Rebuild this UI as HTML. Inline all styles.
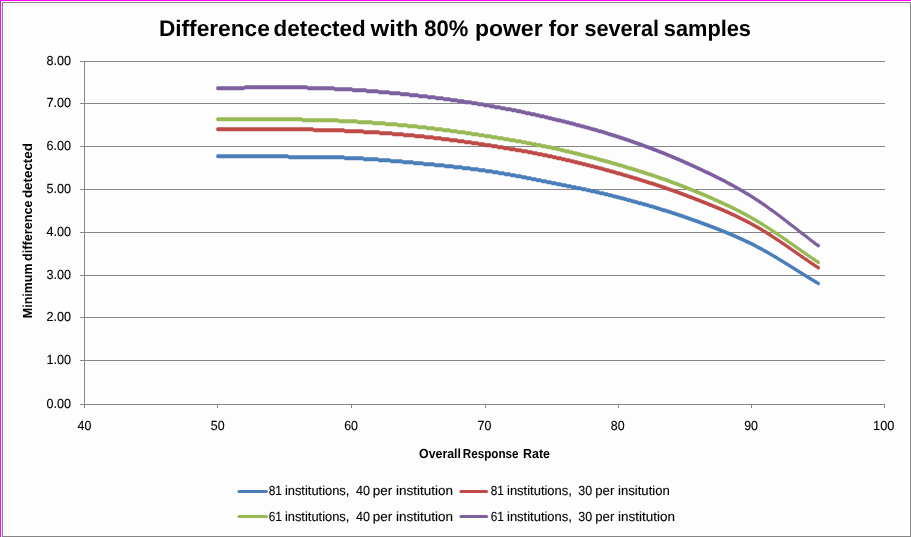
<!DOCTYPE html>
<html><head><meta charset="utf-8"><title>Difference detected with 80% power for several samples</title>
<style>
html,body{margin:0;padding:0;background:#fff;}
body{width:911px;height:537px;overflow:hidden;}
svg{display:block;font-family:"Liberation Sans",sans-serif;}
text{fill:#000;text-rendering:geometricPrecision;stroke:#000;stroke-width:0.12px;}
text[font-weight=bold]{stroke-width:0;}
svg{will-change:transform;}
</style></head><body>
<svg width="911" height="537" viewBox="0 0 911 537">
<rect x="0" y="0" width="911" height="537" fill="#ffffff"/>
<rect x="3" y="3" width="907" height="533" fill="#fdfdfd"/>
<!-- outer magenta edge -->
<rect x="0" y="0" width="911" height="1" fill="#ff00ff"/>
<rect x="0" y="0" width="1" height="537" fill="#ff00ff"/>
<!-- chart border -->
<rect x="2" y="2" width="909" height="1" fill="#868686"/>
<rect x="2" y="536" width="909" height="1" fill="#868686"/>
<rect x="2" y="2" width="1" height="535" fill="#868686"/>
<rect x="910" y="2" width="1" height="535" fill="#868686"/>
<!-- gridlines -->
<rect x="80" y="61" width="805" height="1" fill="#868686"/>
<rect x="80" y="103" width="805" height="1" fill="#868686"/>
<rect x="80" y="146" width="805" height="1" fill="#868686"/>
<rect x="80" y="189" width="805" height="1" fill="#868686"/>
<rect x="80" y="232" width="805" height="1" fill="#868686"/>
<rect x="80" y="275" width="805" height="1" fill="#868686"/>
<rect x="80" y="317" width="805" height="1" fill="#868686"/>
<rect x="80" y="360" width="805" height="1" fill="#868686"/>
<rect x="80" y="404" width="805" height="1" fill="#868686"/>

<!-- y axis -->
<rect x="84" y="61" width="1" height="344" fill="#868686"/>
<rect x="84" y="404" width="1" height="4" fill="#868686"/>
<rect x="217" y="404" width="1" height="4" fill="#868686"/>
<rect x="351" y="404" width="1" height="4" fill="#868686"/>
<rect x="485" y="404" width="1" height="4" fill="#868686"/>
<rect x="618" y="404" width="1" height="4" fill="#868686"/>
<rect x="751" y="404" width="1" height="4" fill="#868686"/>
<rect x="884" y="404" width="1" height="4" fill="#868686"/>

<!-- series -->
<g>
<path d="M217.9 154.35 L287.9 154.35 L288.9 155.35 L343.9 155.35 L344.9 156.35 L362.9 156.35 L363.9 157.35 L377.9 157.35 L378.9 158.35 L389.9 158.35 L390.9 159.35 L401.9 159.35 L402.9 160.35 L412.9 160.35 L413.9 161.35 L422.9 161.35 L423.9 162.35 L433.9 162.35 L434.9 163.35 L443.9 163.35 L444.9 164.35 L452.9 164.35 L453.9 165.35 L461.9 165.35 L462.9 166.35 L469.9 166.35 L470.9 167.35 L477.9 167.35 L478.9 168.35 L484.9 168.35 L485.9 169.35 L491.9 169.35 L492.9 170.35 L497.9 170.35 L498.9 171.35 L503.9 171.35 L504.9 172.35 L509.9 172.35 L510.9 173.35 L514.9 173.35 L515.9 174.35 L520.9 174.35 L521.9 175.35 L525.9 175.35 L526.9 176.35 L530.9 176.35 L531.9 177.35 L535.9 177.35 L536.9 178.35 L540.9 178.35 L541.9 179.35 L545.9 179.35 L546.9 180.35 L550.9 180.35 L551.9 181.35 L555.9 181.35 L556.9 182.35 L560.9 182.35 L561.9 183.35 L565.9 183.35 L566.9 184.35 L570.9 184.35 L571.9 185.35 L575.9 185.35 L576.9 186.35 L580.9 186.35 L581.9 187.35 L585.9 187.35 L586.9 188.35 L589.9 188.35 L590.9 189.35 L591.9 189.35 L592.9 189.35 L593.9 189.35 L594.9 189.36 L595.9 190.34 L596.9 190.35 L597.9 190.35 L598.9 190.36 L599.9 191.33 L600.9 191.34 L601.9 191.35 L602.9 191.37 L603.9 191.39 L604.9 192.33 L605.9 192.35 L606.9 192.37 L607.9 192.40 L608.9 193.32 L609.9 193.34 L610.9 193.37 L611.9 193.41 L612.9 194.30 L613.9 194.34 L614.9 194.38 L615.9 194.42 L616.9 195.29 L617.9 195.34 L618.9 195.38 L619.9 195.43 L620.9 196.29 L621.9 196.34 L622.9 196.40 L623.9 196.45 L624.9 197.30 L625.9 197.35 L626.9 197.41 L627.9 198.25 L628.9 198.30 L629.9 198.37 L630.9 198.43 L631.9 199.25 L632.9 199.32 L633.9 199.39 L634.9 199.46 L635.9 200.27 L636.9 200.34 L637.9 200.41 L638.9 201.21 L639.9 201.29 L640.9 201.37 L641.9 201.45 L642.9 202.24 L643.9 202.32 L644.9 202.41 L645.9 202.50 L646.9 203.27 L647.9 203.36 L648.9 203.46 L649.9 204.22 L650.9 204.32 L651.9 204.42 L652.9 204.53 L653.9 205.27 L654.9 205.38 L655.9 205.50 L656.9 206.22 L657.9 206.34 L658.9 206.46 L659.9 207.17 L660.9 207.30 L661.9 207.43 L662.9 208.13 L663.9 208.26 L664.9 208.41 L665.9 208.55 L666.9 209.23 L667.9 209.38 L668.9 209.54 L669.9 210.20 L670.9 210.36 L671.9 210.53 L672.9 211.18 L673.9 211.35 L674.9 211.53 L675.9 212.16 L676.9 212.34 L677.9 212.53 L678.9 213.15 L679.9 213.35 L680.9 213.55 L681.9 214.15 L682.9 214.36 L683.9 214.58 L684.9 215.17 L685.9 215.39 L686.9 215.62 L687.9 216.20 L688.9 216.43 L689.9 216.66 L690.9 217.23 L691.9 217.47 L692.9 218.03 L693.9 218.27 L694.9 218.51 L695.9 219.07 L696.9 219.32 L697.9 219.57 L698.9 220.12 L699.9 220.37 L700.9 220.63 L701.9 221.18 L702.9 221.44 L703.9 221.71 L704.9 222.25 L705.9 222.52 L706.9 223.05 L707.9 223.33 L708.9 223.62 L709.9 224.13 L710.9 224.43 L711.9 224.73 L712.9 225.24 L713.9 225.55 L714.9 226.04 L715.9 226.36 L716.9 226.69 L717.9 227.17 L718.9 227.51 L719.9 227.98 L720.9 228.33 L721.9 228.69 L722.9 229.15 L723.9 229.52 L724.9 229.97 L725.9 230.35 L726.9 230.75 L727.9 231.18 L728.9 231.59 L729.9 232.02 L730.9 232.44 L731.9 232.86 L732.9 233.29 L733.9 233.72 L734.9 234.16 L735.9 234.60 L736.9 235.04 L737.9 235.48 L738.9 235.93 L739.9 236.38 L740.9 236.83 L741.9 237.29 L742.9 237.75 L743.9 238.22 L744.9 238.69 L745.9 239.16 L746.9 239.64 L747.9 240.12 L748.9 240.60 L749.9 241.09 L750.9 241.58 L751.9 242.08 L752.9 242.58 L753.9 243.09 L754.9 243.60 L755.9 244.12 L756.9 244.64 L757.9 245.17 L758.9 245.70 L759.9 246.24 L760.9 246.78 L761.9 247.32 L762.9 247.87 L763.9 248.43 L764.9 248.99 L765.9 249.55 L766.9 250.11 L767.9 250.68 L768.9 251.26 L769.9 251.83 L770.9 252.41 L771.9 253.00 L772.9 253.59 L773.9 254.18 L774.9 254.77 L775.9 255.37 L776.9 255.96 L777.9 256.57 L778.9 257.17 L779.9 257.78 L780.9 258.38 L781.9 258.99 L782.9 259.61 L783.9 260.22 L784.9 260.84 L785.9 261.45 L786.9 262.07 L787.9 262.69 L788.9 263.32 L789.9 263.94 L790.9 264.56 L791.9 265.18 L792.9 265.81 L793.9 266.43 L794.9 267.06 L795.9 267.69 L796.9 268.31 L797.9 268.94 L798.9 269.56 L799.9 270.19 L800.9 270.81 L801.9 271.43 L802.9 272.06 L803.9 272.68 L804.9 273.30 L805.9 273.92 L806.9 274.54 L807.9 275.16 L808.9 275.77 L809.9 276.38 L810.9 277.00 L811.9 277.60 L812.9 278.21 L813.9 278.82 L814.9 279.42 L815.9 280.02 L816.9 280.62 L817.9 281.21 L818.2 281.39 A1.80 2.00 0 0 1 818.20 285.39 L817.9 285.21 L816.9 284.62 L815.9 284.02 L814.9 283.42 L813.9 282.82 L812.9 282.21 L811.9 281.60 L810.9 281.00 L809.9 280.38 L808.9 279.77 L807.9 279.16 L806.9 278.54 L805.9 277.92 L804.9 277.30 L803.9 276.68 L802.9 276.06 L801.9 275.43 L800.9 274.81 L799.9 274.19 L798.9 273.56 L797.9 272.94 L796.9 272.31 L795.9 271.69 L794.9 271.06 L793.9 270.43 L792.9 269.81 L791.9 269.18 L790.9 268.56 L789.9 267.94 L788.9 267.32 L787.9 266.69 L786.9 266.07 L785.9 265.45 L784.9 264.84 L783.9 264.22 L782.9 263.61 L781.9 262.99 L780.9 262.38 L779.9 261.78 L778.9 261.17 L777.9 260.57 L776.9 259.96 L775.9 259.37 L774.9 258.77 L773.9 258.18 L772.9 257.59 L771.9 257.00 L770.9 256.41 L769.9 255.83 L768.9 255.26 L767.9 254.68 L766.9 254.11 L765.9 253.55 L764.9 252.99 L763.9 252.43 L762.9 251.87 L761.9 251.32 L760.9 250.78 L759.9 250.24 L758.9 249.70 L757.9 249.17 L756.9 248.64 L755.9 248.12 L754.9 247.60 L753.9 247.09 L752.9 246.58 L751.9 246.08 L750.9 245.58 L749.9 245.09 L748.9 244.60 L747.9 244.12 L746.9 243.64 L745.9 243.16 L744.9 242.69 L743.9 242.22 L742.9 241.75 L741.9 241.29 L740.9 240.83 L739.9 240.38 L738.9 239.93 L737.9 239.48 L736.9 239.04 L735.9 238.60 L734.9 238.16 L733.9 237.72 L732.9 237.29 L731.9 236.86 L730.9 236.44 L729.9 236.02 L728.9 235.59 L727.9 235.18 L726.9 234.75 L725.9 234.35 L724.9 233.97 L723.9 233.52 L722.9 233.15 L721.9 232.69 L720.9 232.33 L719.9 231.98 L718.9 231.51 L717.9 231.17 L716.9 230.69 L715.9 230.36 L714.9 230.04 L713.9 229.55 L712.9 229.24 L711.9 228.73 L710.9 228.43 L709.9 228.13 L708.9 227.62 L707.9 227.33 L706.9 227.05 L705.9 226.52 L704.9 226.25 L703.9 225.71 L702.9 225.44 L701.9 225.18 L700.9 224.63 L699.9 224.37 L698.9 224.12 L697.9 223.57 L696.9 223.32 L695.9 223.07 L694.9 222.51 L693.9 222.27 L692.9 222.03 L691.9 221.47 L690.9 221.23 L689.9 220.66 L688.9 220.43 L687.9 220.20 L686.9 219.62 L685.9 219.39 L684.9 219.17 L683.9 218.58 L682.9 218.36 L681.9 218.15 L680.9 217.55 L679.9 217.35 L678.9 217.15 L677.9 216.53 L676.9 216.34 L675.9 216.16 L674.9 215.53 L673.9 215.35 L672.9 215.18 L671.9 214.53 L670.9 214.36 L669.9 214.20 L668.9 213.54 L667.9 213.38 L666.9 213.23 L665.9 212.55 L664.9 212.41 L663.9 212.26 L662.9 212.13 L661.9 211.43 L660.9 211.30 L659.9 211.17 L658.9 210.46 L657.9 210.34 L656.9 210.22 L655.9 209.50 L654.9 209.38 L653.9 209.27 L652.9 208.53 L651.9 208.42 L650.9 208.32 L649.9 208.22 L648.9 207.46 L647.9 207.36 L646.9 207.27 L645.9 206.50 L644.9 206.41 L643.9 206.32 L642.9 206.24 L641.9 205.45 L640.9 205.37 L639.9 205.29 L638.9 205.21 L637.9 204.41 L636.9 204.34 L635.9 204.27 L634.9 203.46 L633.9 203.39 L632.9 203.32 L631.9 203.25 L630.9 202.43 L629.9 202.37 L628.9 202.30 L627.9 202.25 L626.9 201.41 L625.9 201.35 L624.9 201.30 L623.9 200.45 L622.9 200.40 L621.9 200.34 L620.9 200.29 L619.9 199.43 L618.9 199.38 L617.9 199.34 L616.9 199.29 L615.9 198.42 L614.9 198.38 L613.9 198.34 L612.9 198.30 L611.9 197.41 L610.9 197.37 L609.9 197.34 L608.9 197.32 L607.9 196.40 L606.9 196.37 L605.9 196.35 L604.9 196.33 L603.9 195.39 L602.9 195.37 L601.9 195.35 L600.9 195.34 L599.9 195.33 L598.9 194.36 L597.9 194.35 L596.9 194.35 L595.9 194.34 L594.9 193.36 L593.9 193.35 L592.9 193.35 L591.9 193.35 L590.9 193.35 L589.9 192.35 L586.9 192.35 L585.9 191.35 L581.9 191.35 L580.9 190.35 L576.9 190.35 L575.9 189.35 L571.9 189.35 L570.9 188.35 L566.9 188.35 L565.9 187.35 L561.9 187.35 L560.9 186.35 L556.9 186.35 L555.9 185.35 L551.9 185.35 L550.9 184.35 L546.9 184.35 L545.9 183.35 L541.9 183.35 L540.9 182.35 L536.9 182.35 L535.9 181.35 L531.9 181.35 L530.9 180.35 L526.9 180.35 L525.9 179.35 L521.9 179.35 L520.9 178.35 L515.9 178.35 L514.9 177.35 L510.9 177.35 L509.9 176.35 L504.9 176.35 L503.9 175.35 L498.9 175.35 L497.9 174.35 L492.9 174.35 L491.9 173.35 L485.9 173.35 L484.9 172.35 L478.9 172.35 L477.9 171.35 L470.9 171.35 L469.9 170.35 L462.9 170.35 L461.9 169.35 L453.9 169.35 L452.9 168.35 L444.9 168.35 L443.9 167.35 L434.9 167.35 L433.9 166.35 L423.9 166.35 L422.9 165.35 L413.9 165.35 L412.9 164.35 L402.9 164.35 L401.9 163.35 L390.9 163.35 L389.9 162.35 L378.9 162.35 L377.9 161.35 L363.9 161.35 L362.9 160.35 L344.9 160.35 L343.9 159.35 L288.9 159.35 L287.9 158.35 L217.9 158.35 A1.80 2.00 0 0 1 217.90 154.35 Z" fill="#4A7EBB" stroke="none"/>
<path d="M217.9 127.35 L312.9 127.35 L313.9 128.35 L343.9 128.35 L344.9 129.35 L362.9 129.35 L363.9 130.35 L378.9 130.35 L379.9 131.35 L391.9 131.35 L392.9 132.35 L402.9 132.35 L403.9 133.35 L413.9 133.35 L414.9 134.35 L423.9 134.35 L424.9 135.35 L432.9 135.35 L433.9 136.35 L440.9 136.35 L441.9 137.35 L448.9 137.35 L449.9 138.35 L456.9 138.35 L457.9 139.35 L463.9 139.35 L464.9 140.35 L470.9 140.35 L471.9 141.35 L477.9 141.35 L478.9 142.35 L483.9 142.35 L484.9 143.35 L490.9 143.35 L491.9 144.35 L496.9 144.35 L497.9 145.35 L502.9 145.35 L503.9 146.35 L508.9 146.35 L509.9 147.35 L514.9 147.35 L515.9 148.35 L520.9 148.35 L521.9 149.35 L526.9 149.35 L527.9 150.35 L531.9 150.35 L532.9 151.35 L536.9 151.35 L537.9 152.35 L541.9 152.35 L542.9 153.35 L546.9 153.35 L547.9 154.35 L551.9 154.35 L552.9 155.35 L555.9 155.35 L556.9 156.35 L557.9 156.35 L558.9 156.35 L559.9 156.35 L560.9 156.36 L561.9 157.34 L562.9 157.35 L563.9 157.35 L564.9 157.36 L565.9 158.33 L566.9 158.34 L567.9 158.35 L568.9 158.36 L569.9 158.38 L570.9 159.33 L571.9 159.34 L572.9 159.36 L573.9 159.38 L574.9 160.32 L575.9 160.34 L576.9 160.36 L577.9 160.39 L578.9 161.31 L579.9 161.33 L580.9 161.36 L581.9 161.39 L582.9 162.29 L583.9 162.33 L584.9 162.36 L585.9 162.40 L586.9 163.28 L587.9 163.32 L588.9 163.36 L589.9 163.40 L590.9 164.28 L591.9 164.32 L592.9 164.37 L593.9 164.42 L594.9 165.27 L595.9 165.32 L596.9 165.38 L597.9 165.43 L598.9 166.27 L599.9 166.33 L600.9 166.39 L601.9 166.46 L602.9 167.28 L603.9 167.35 L604.9 167.42 L605.9 168.23 L606.9 168.30 L607.9 168.37 L608.9 168.45 L609.9 169.24 L610.9 169.32 L611.9 169.40 L612.9 169.49 L613.9 170.27 L614.9 170.36 L615.9 170.45 L616.9 171.22 L617.9 171.31 L618.9 171.41 L619.9 171.51 L620.9 172.26 L621.9 172.36 L622.9 172.46 L623.9 173.21 L624.9 173.32 L625.9 173.42 L626.9 173.53 L627.9 174.27 L628.9 174.38 L629.9 174.49 L630.9 175.22 L631.9 175.34 L632.9 175.46 L633.9 176.18 L634.9 176.30 L635.9 176.42 L636.9 176.54 L637.9 177.25 L638.9 177.38 L639.9 177.51 L640.9 178.21 L641.9 178.35 L642.9 178.49 L643.9 179.18 L644.9 179.32 L645.9 179.46 L646.9 180.14 L647.9 180.29 L648.9 180.44 L649.9 181.11 L650.9 181.26 L651.9 181.42 L652.9 181.59 L653.9 182.24 L654.9 182.41 L655.9 182.58 L656.9 183.22 L657.9 183.40 L658.9 183.59 L659.9 184.21 L660.9 184.40 L661.9 184.60 L662.9 185.21 L663.9 185.41 L664.9 185.62 L665.9 186.22 L666.9 186.43 L667.9 186.65 L668.9 187.23 L669.9 187.46 L670.9 188.03 L671.9 188.26 L672.9 188.50 L673.9 189.06 L674.9 189.31 L675.9 189.56 L676.9 190.11 L677.9 190.37 L678.9 190.64 L679.9 191.17 L680.9 191.45 L681.9 191.73 L682.9 192.25 L683.9 192.55 L684.9 193.05 L685.9 193.36 L686.9 193.66 L687.9 194.16 L688.9 194.47 L689.9 194.97 L690.9 195.28 L691.9 195.59 L692.9 196.09 L693.9 196.40 L694.9 196.72 L695.9 197.21 L696.9 197.53 L697.9 198.02 L698.9 198.34 L699.9 198.67 L700.9 199.15 L701.9 199.49 L702.9 199.96 L703.9 200.30 L704.9 200.65 L705.9 201.12 L706.9 201.47 L707.9 201.93 L708.9 202.29 L709.9 202.66 L710.9 203.11 L711.9 203.49 L712.9 203.93 L713.9 204.32 L714.9 204.72 L715.9 205.15 L716.9 205.56 L717.9 205.98 L718.9 206.41 L719.9 206.83 L720.9 207.26 L721.9 207.68 L722.9 208.12 L723.9 208.55 L724.9 208.99 L725.9 209.43 L726.9 209.87 L727.9 210.32 L728.9 210.76 L729.9 211.22 L730.9 211.67 L731.9 212.13 L732.9 212.59 L733.9 213.06 L734.9 213.53 L735.9 214.00 L736.9 214.48 L737.9 214.96 L738.9 215.44 L739.9 215.93 L740.9 216.42 L741.9 216.92 L742.9 217.42 L743.9 217.92 L744.9 218.43 L745.9 218.95 L746.9 219.47 L747.9 219.99 L748.9 220.52 L749.9 221.05 L750.9 221.59 L751.9 222.14 L752.9 222.69 L753.9 223.25 L754.9 223.81 L755.9 224.38 L756.9 224.95 L757.9 225.53 L758.9 226.12 L759.9 226.71 L760.9 227.30 L761.9 227.90 L762.9 228.51 L763.9 229.12 L764.9 229.73 L765.9 230.35 L766.9 230.98 L767.9 231.61 L768.9 232.24 L769.9 232.88 L770.9 233.52 L771.9 234.17 L772.9 234.82 L773.9 235.47 L774.9 236.13 L775.9 236.79 L776.9 237.45 L777.9 238.12 L778.9 238.79 L779.9 239.46 L780.9 240.13 L781.9 240.81 L782.9 241.49 L783.9 242.17 L784.9 242.86 L785.9 243.54 L786.9 244.23 L787.9 244.92 L788.9 245.61 L789.9 246.30 L790.9 246.99 L791.9 247.69 L792.9 248.38 L793.9 249.08 L794.9 249.77 L795.9 250.47 L796.9 251.16 L797.9 251.86 L798.9 252.55 L799.9 253.25 L800.9 253.94 L801.9 254.63 L802.9 255.32 L803.9 256.02 L804.9 256.70 L805.9 257.39 L806.9 258.08 L807.9 258.76 L808.9 259.45 L809.9 260.13 L810.9 260.81 L811.9 261.48 L812.9 262.16 L813.9 262.83 L814.9 263.50 L815.9 264.16 L816.9 264.82 L817.9 265.48 L818.2 265.68 A1.80 2.00 0 0 1 818.20 269.68 L817.9 269.48 L816.9 268.82 L815.9 268.16 L814.9 267.50 L813.9 266.83 L812.9 266.16 L811.9 265.48 L810.9 264.81 L809.9 264.13 L808.9 263.45 L807.9 262.76 L806.9 262.08 L805.9 261.39 L804.9 260.70 L803.9 260.02 L802.9 259.32 L801.9 258.63 L800.9 257.94 L799.9 257.25 L798.9 256.55 L797.9 255.86 L796.9 255.16 L795.9 254.47 L794.9 253.77 L793.9 253.08 L792.9 252.38 L791.9 251.69 L790.9 250.99 L789.9 250.30 L788.9 249.61 L787.9 248.92 L786.9 248.23 L785.9 247.54 L784.9 246.86 L783.9 246.17 L782.9 245.49 L781.9 244.81 L780.9 244.13 L779.9 243.46 L778.9 242.79 L777.9 242.12 L776.9 241.45 L775.9 240.79 L774.9 240.13 L773.9 239.47 L772.9 238.82 L771.9 238.17 L770.9 237.52 L769.9 236.88 L768.9 236.24 L767.9 235.61 L766.9 234.98 L765.9 234.35 L764.9 233.73 L763.9 233.12 L762.9 232.51 L761.9 231.90 L760.9 231.30 L759.9 230.71 L758.9 230.12 L757.9 229.53 L756.9 228.95 L755.9 228.38 L754.9 227.81 L753.9 227.25 L752.9 226.69 L751.9 226.14 L750.9 225.59 L749.9 225.05 L748.9 224.52 L747.9 223.99 L746.9 223.47 L745.9 222.95 L744.9 222.43 L743.9 221.92 L742.9 221.42 L741.9 220.92 L740.9 220.42 L739.9 219.93 L738.9 219.44 L737.9 218.96 L736.9 218.48 L735.9 218.00 L734.9 217.53 L733.9 217.06 L732.9 216.59 L731.9 216.13 L730.9 215.67 L729.9 215.22 L728.9 214.76 L727.9 214.32 L726.9 213.87 L725.9 213.43 L724.9 212.99 L723.9 212.55 L722.9 212.12 L721.9 211.68 L720.9 211.26 L719.9 210.83 L718.9 210.41 L717.9 209.98 L716.9 209.56 L715.9 209.15 L714.9 208.72 L713.9 208.32 L712.9 207.93 L711.9 207.49 L710.9 207.11 L709.9 206.66 L708.9 206.29 L707.9 205.93 L706.9 205.47 L705.9 205.12 L704.9 204.65 L703.9 204.30 L702.9 203.96 L701.9 203.49 L700.9 203.15 L699.9 202.67 L698.9 202.34 L697.9 202.02 L696.9 201.53 L695.9 201.21 L694.9 200.72 L693.9 200.40 L692.9 200.09 L691.9 199.59 L690.9 199.28 L689.9 198.97 L688.9 198.47 L687.9 198.16 L686.9 197.66 L685.9 197.36 L684.9 197.05 L683.9 196.55 L682.9 196.25 L681.9 195.73 L680.9 195.45 L679.9 195.17 L678.9 194.64 L677.9 194.37 L676.9 194.11 L675.9 193.56 L674.9 193.31 L673.9 193.06 L672.9 192.50 L671.9 192.26 L670.9 192.03 L669.9 191.46 L668.9 191.23 L667.9 190.65 L666.9 190.43 L665.9 190.22 L664.9 189.62 L663.9 189.41 L662.9 189.21 L661.9 188.60 L660.9 188.40 L659.9 188.21 L658.9 187.59 L657.9 187.40 L656.9 187.22 L655.9 186.58 L654.9 186.41 L653.9 186.24 L652.9 185.59 L651.9 185.42 L650.9 185.26 L649.9 185.11 L648.9 184.44 L647.9 184.29 L646.9 184.14 L645.9 183.46 L644.9 183.32 L643.9 183.18 L642.9 182.49 L641.9 182.35 L640.9 182.21 L639.9 181.51 L638.9 181.38 L637.9 181.25 L636.9 180.54 L635.9 180.42 L634.9 180.30 L633.9 180.18 L632.9 179.46 L631.9 179.34 L630.9 179.22 L629.9 178.49 L628.9 178.38 L627.9 178.27 L626.9 177.53 L625.9 177.42 L624.9 177.32 L623.9 177.21 L622.9 176.46 L621.9 176.36 L620.9 176.26 L619.9 175.51 L618.9 175.41 L617.9 175.31 L616.9 175.22 L615.9 174.45 L614.9 174.36 L613.9 174.27 L612.9 173.49 L611.9 173.40 L610.9 173.32 L609.9 173.24 L608.9 172.45 L607.9 172.37 L606.9 172.30 L605.9 172.23 L604.9 171.42 L603.9 171.35 L602.9 171.28 L601.9 170.46 L600.9 170.39 L599.9 170.33 L598.9 170.27 L597.9 169.43 L596.9 169.38 L595.9 169.32 L594.9 169.27 L593.9 168.42 L592.9 168.37 L591.9 168.32 L590.9 168.28 L589.9 167.40 L588.9 167.36 L587.9 167.32 L586.9 167.28 L585.9 166.40 L584.9 166.36 L583.9 166.33 L582.9 166.29 L581.9 165.39 L580.9 165.36 L579.9 165.33 L578.9 165.31 L577.9 164.39 L576.9 164.36 L575.9 164.34 L574.9 164.32 L573.9 163.38 L572.9 163.36 L571.9 163.34 L570.9 163.33 L569.9 162.38 L568.9 162.36 L567.9 162.35 L566.9 162.34 L565.9 162.33 L564.9 161.36 L563.9 161.35 L562.9 161.35 L561.9 161.34 L560.9 160.36 L559.9 160.35 L558.9 160.35 L557.9 160.35 L556.9 160.35 L555.9 159.35 L552.9 159.35 L551.9 158.35 L547.9 158.35 L546.9 157.35 L542.9 157.35 L541.9 156.35 L537.9 156.35 L536.9 155.35 L532.9 155.35 L531.9 154.35 L527.9 154.35 L526.9 153.35 L521.9 153.35 L520.9 152.35 L515.9 152.35 L514.9 151.35 L509.9 151.35 L508.9 150.35 L503.9 150.35 L502.9 149.35 L497.9 149.35 L496.9 148.35 L491.9 148.35 L490.9 147.35 L484.9 147.35 L483.9 146.35 L478.9 146.35 L477.9 145.35 L471.9 145.35 L470.9 144.35 L464.9 144.35 L463.9 143.35 L457.9 143.35 L456.9 142.35 L449.9 142.35 L448.9 141.35 L441.9 141.35 L440.9 140.35 L433.9 140.35 L432.9 139.35 L424.9 139.35 L423.9 138.35 L414.9 138.35 L413.9 137.35 L403.9 137.35 L402.9 136.35 L392.9 136.35 L391.9 135.35 L379.9 135.35 L378.9 134.35 L363.9 134.35 L362.9 133.35 L344.9 133.35 L343.9 132.35 L313.9 132.35 L312.9 131.35 L217.9 131.35 A1.80 2.00 0 0 1 217.90 127.35 Z" fill="#BE4B48" stroke="none"/>
<path d="M217.9 117.35 L301.9 117.35 L302.9 118.35 L337.9 118.35 L338.9 119.35 L356.9 119.35 L357.9 120.35 L371.9 120.35 L372.9 121.35 L384.9 121.35 L385.9 122.35 L396.9 122.35 L397.9 123.35 L406.9 123.35 L407.9 124.35 L416.9 124.35 L417.9 125.35 L425.9 125.35 L426.9 126.35 L433.9 126.35 L434.9 127.35 L441.9 127.35 L442.9 128.35 L449.9 128.35 L450.9 129.35 L456.9 129.35 L457.9 130.35 L464.9 130.35 L465.9 131.35 L470.9 131.35 L471.9 132.35 L477.9 132.35 L478.9 133.35 L483.9 133.35 L484.9 134.35 L490.9 134.35 L491.9 135.35 L496.9 135.35 L497.9 136.35 L502.9 136.35 L503.9 137.35 L508.9 137.35 L509.9 138.35 L514.9 138.35 L515.9 139.35 L520.9 139.35 L521.9 140.35 L525.9 140.35 L526.9 141.35 L530.9 141.35 L531.9 142.35 L535.9 142.35 L536.9 143.35 L540.9 143.35 L541.9 144.35 L545.9 144.35 L546.9 145.35 L550.9 145.35 L551.9 146.35 L554.9 146.35 L555.9 146.35 L556.9 147.35 L557.9 147.35 L558.9 147.35 L559.9 147.36 L560.9 148.34 L561.9 148.34 L562.9 148.35 L563.9 148.36 L564.9 149.33 L565.9 149.34 L566.9 149.35 L567.9 149.36 L568.9 149.38 L569.9 150.33 L570.9 150.34 L571.9 150.36 L572.9 150.39 L573.9 151.31 L574.9 151.34 L575.9 151.36 L576.9 151.39 L577.9 152.30 L578.9 152.33 L579.9 152.36 L580.9 152.39 L581.9 153.29 L582.9 153.32 L583.9 153.36 L584.9 153.40 L585.9 154.28 L586.9 154.32 L587.9 154.37 L588.9 154.41 L589.9 155.27 L590.9 155.32 L591.9 155.37 L592.9 155.43 L593.9 156.27 L594.9 156.33 L595.9 156.39 L596.9 156.45 L597.9 157.28 L598.9 157.34 L599.9 157.41 L600.9 158.22 L601.9 158.29 L602.9 158.36 L603.9 158.44 L604.9 159.24 L605.9 159.31 L606.9 159.40 L607.9 159.48 L608.9 160.26 L609.9 160.35 L610.9 160.44 L611.9 161.21 L612.9 161.30 L613.9 161.40 L614.9 161.50 L615.9 162.25 L616.9 162.35 L617.9 162.46 L618.9 163.20 L619.9 163.31 L620.9 163.42 L621.9 163.53 L622.9 164.26 L623.9 164.38 L624.9 164.50 L625.9 165.22 L626.9 165.34 L627.9 165.46 L628.9 166.18 L629.9 166.30 L630.9 166.43 L631.9 166.56 L632.9 167.26 L633.9 167.39 L634.9 167.53 L635.9 168.22 L636.9 168.36 L637.9 168.50 L638.9 169.19 L639.9 169.33 L640.9 169.48 L641.9 170.15 L642.9 170.30 L643.9 170.46 L644.9 171.12 L645.9 171.28 L646.9 171.45 L647.9 172.09 L648.9 172.26 L649.9 172.44 L650.9 172.61 L651.9 173.25 L652.9 173.43 L653.9 173.62 L654.9 174.24 L655.9 174.44 L656.9 174.64 L657.9 175.25 L658.9 175.45 L659.9 176.05 L660.9 176.26 L661.9 176.48 L662.9 177.06 L663.9 177.28 L664.9 177.52 L665.9 178.08 L666.9 178.32 L667.9 178.57 L668.9 179.12 L669.9 179.38 L670.9 179.64 L671.9 180.18 L672.9 180.45 L673.9 180.98 L674.9 181.26 L675.9 181.55 L676.9 182.06 L677.9 182.36 L678.9 182.67 L679.9 183.17 L680.9 183.49 L681.9 183.97 L682.9 184.30 L683.9 184.65 L684.9 185.12 L685.9 185.47 L686.9 185.93 L687.9 186.29 L688.9 186.66 L689.9 187.12 L690.9 187.49 L691.9 187.93 L692.9 188.31 L693.9 188.70 L694.9 189.14 L695.9 189.53 L696.9 189.96 L697.9 190.36 L698.9 190.76 L699.9 191.19 L700.9 191.61 L701.9 192.03 L702.9 192.45 L703.9 192.87 L704.9 193.29 L705.9 193.72 L706.9 194.15 L707.9 194.58 L708.9 195.01 L709.9 195.44 L710.9 195.87 L711.9 196.31 L712.9 196.75 L713.9 197.19 L714.9 197.64 L715.9 198.08 L716.9 198.53 L717.9 198.98 L718.9 199.43 L719.9 199.89 L720.9 200.34 L721.9 200.80 L722.9 201.27 L723.9 201.73 L724.9 202.20 L725.9 202.67 L726.9 203.14 L727.9 203.62 L728.9 204.10 L729.9 204.58 L730.9 205.07 L731.9 205.56 L732.9 206.05 L733.9 206.54 L734.9 207.04 L735.9 207.54 L736.9 208.05 L737.9 208.55 L738.9 209.06 L739.9 209.58 L740.9 210.10 L741.9 210.62 L742.9 211.15 L743.9 211.68 L744.9 212.21 L745.9 212.75 L746.9 213.29 L747.9 213.84 L748.9 214.39 L749.9 214.94 L750.9 215.50 L751.9 216.07 L752.9 216.64 L753.9 217.21 L754.9 217.79 L755.9 218.38 L756.9 218.97 L757.9 219.56 L758.9 220.16 L759.9 220.77 L760.9 221.38 L761.9 222.00 L762.9 222.62 L763.9 223.24 L764.9 223.87 L765.9 224.50 L766.9 225.14 L767.9 225.78 L768.9 226.43 L769.9 227.08 L770.9 227.73 L771.9 228.39 L772.9 229.05 L773.9 229.72 L774.9 230.38 L775.9 231.06 L776.9 231.73 L777.9 232.41 L778.9 233.08 L779.9 233.77 L780.9 234.45 L781.9 235.14 L782.9 235.82 L783.9 236.52 L784.9 237.21 L785.9 237.90 L786.9 238.60 L787.9 239.29 L788.9 239.99 L789.9 240.69 L790.9 241.39 L791.9 242.09 L792.9 242.80 L793.9 243.50 L794.9 244.20 L795.9 244.90 L796.9 245.61 L797.9 246.31 L798.9 247.01 L799.9 247.71 L800.9 248.42 L801.9 249.12 L802.9 249.82 L803.9 250.51 L804.9 251.21 L805.9 251.91 L806.9 252.60 L807.9 253.30 L808.9 253.99 L809.9 254.68 L810.9 255.37 L811.9 256.05 L812.9 256.73 L813.9 257.42 L814.9 258.09 L815.9 258.77 L816.9 259.44 L817.9 260.11 L818.2 260.31 A1.80 2.00 0 0 1 818.20 264.31 L817.9 264.11 L816.9 263.44 L815.9 262.77 L814.9 262.09 L813.9 261.42 L812.9 260.73 L811.9 260.05 L810.9 259.37 L809.9 258.68 L808.9 257.99 L807.9 257.30 L806.9 256.60 L805.9 255.91 L804.9 255.21 L803.9 254.51 L802.9 253.82 L801.9 253.12 L800.9 252.42 L799.9 251.71 L798.9 251.01 L797.9 250.31 L796.9 249.61 L795.9 248.90 L794.9 248.20 L793.9 247.50 L792.9 246.80 L791.9 246.09 L790.9 245.39 L789.9 244.69 L788.9 243.99 L787.9 243.29 L786.9 242.60 L785.9 241.90 L784.9 241.21 L783.9 240.52 L782.9 239.82 L781.9 239.14 L780.9 238.45 L779.9 237.77 L778.9 237.08 L777.9 236.41 L776.9 235.73 L775.9 235.06 L774.9 234.38 L773.9 233.72 L772.9 233.05 L771.9 232.39 L770.9 231.73 L769.9 231.08 L768.9 230.43 L767.9 229.78 L766.9 229.14 L765.9 228.50 L764.9 227.87 L763.9 227.24 L762.9 226.62 L761.9 226.00 L760.9 225.38 L759.9 224.77 L758.9 224.16 L757.9 223.56 L756.9 222.97 L755.9 222.38 L754.9 221.79 L753.9 221.21 L752.9 220.64 L751.9 220.07 L750.9 219.50 L749.9 218.94 L748.9 218.39 L747.9 217.84 L746.9 217.29 L745.9 216.75 L744.9 216.21 L743.9 215.68 L742.9 215.15 L741.9 214.62 L740.9 214.10 L739.9 213.58 L738.9 213.06 L737.9 212.55 L736.9 212.05 L735.9 211.54 L734.9 211.04 L733.9 210.54 L732.9 210.05 L731.9 209.56 L730.9 209.07 L729.9 208.58 L728.9 208.10 L727.9 207.62 L726.9 207.14 L725.9 206.67 L724.9 206.20 L723.9 205.73 L722.9 205.27 L721.9 204.80 L720.9 204.34 L719.9 203.89 L718.9 203.43 L717.9 202.98 L716.9 202.53 L715.9 202.08 L714.9 201.64 L713.9 201.19 L712.9 200.75 L711.9 200.31 L710.9 199.87 L709.9 199.44 L708.9 199.01 L707.9 198.58 L706.9 198.15 L705.9 197.72 L704.9 197.29 L703.9 196.87 L702.9 196.45 L701.9 196.03 L700.9 195.61 L699.9 195.19 L698.9 194.76 L697.9 194.36 L696.9 193.96 L695.9 193.53 L694.9 193.14 L693.9 192.70 L692.9 192.31 L691.9 191.93 L690.9 191.49 L689.9 191.12 L688.9 190.66 L687.9 190.29 L686.9 189.93 L685.9 189.47 L684.9 189.12 L683.9 188.65 L682.9 188.30 L681.9 187.97 L680.9 187.49 L679.9 187.17 L678.9 186.67 L677.9 186.36 L676.9 186.06 L675.9 185.55 L674.9 185.26 L673.9 184.98 L672.9 184.45 L671.9 184.18 L670.9 183.64 L669.9 183.38 L668.9 183.12 L667.9 182.57 L666.9 182.32 L665.9 182.08 L664.9 181.52 L663.9 181.28 L662.9 181.06 L661.9 180.48 L660.9 180.26 L659.9 180.05 L658.9 179.45 L657.9 179.25 L656.9 178.64 L655.9 178.44 L654.9 178.24 L653.9 177.62 L652.9 177.43 L651.9 177.25 L650.9 176.61 L649.9 176.44 L648.9 176.26 L647.9 176.09 L646.9 175.45 L645.9 175.28 L644.9 175.12 L643.9 174.46 L642.9 174.30 L641.9 174.15 L640.9 173.48 L639.9 173.33 L638.9 173.19 L637.9 172.50 L636.9 172.36 L635.9 172.22 L634.9 171.53 L633.9 171.39 L632.9 171.26 L631.9 170.56 L630.9 170.43 L629.9 170.30 L628.9 170.18 L627.9 169.46 L626.9 169.34 L625.9 169.22 L624.9 168.50 L623.9 168.38 L622.9 168.26 L621.9 167.53 L620.9 167.42 L619.9 167.31 L618.9 167.20 L617.9 166.46 L616.9 166.35 L615.9 166.25 L614.9 165.50 L613.9 165.40 L612.9 165.30 L611.9 165.21 L610.9 164.44 L609.9 164.35 L608.9 164.26 L607.9 163.48 L606.9 163.40 L605.9 163.31 L604.9 163.24 L603.9 162.44 L602.9 162.36 L601.9 162.29 L600.9 162.22 L599.9 161.41 L598.9 161.34 L597.9 161.28 L596.9 160.45 L595.9 160.39 L594.9 160.33 L593.9 160.27 L592.9 159.43 L591.9 159.37 L590.9 159.32 L589.9 159.27 L588.9 158.41 L587.9 158.37 L586.9 158.32 L585.9 158.28 L584.9 157.40 L583.9 157.36 L582.9 157.32 L581.9 157.29 L580.9 156.39 L579.9 156.36 L578.9 156.33 L577.9 156.30 L576.9 155.39 L575.9 155.36 L574.9 155.34 L573.9 155.31 L572.9 154.39 L571.9 154.36 L570.9 154.34 L569.9 154.33 L568.9 153.38 L567.9 153.36 L566.9 153.35 L565.9 153.34 L564.9 153.33 L563.9 152.36 L562.9 152.35 L561.9 152.34 L560.9 152.34 L559.9 151.36 L558.9 151.35 L557.9 151.35 L556.9 151.35 L555.9 150.35 L554.9 150.35 L551.9 150.35 L550.9 149.35 L546.9 149.35 L545.9 148.35 L541.9 148.35 L540.9 147.35 L536.9 147.35 L535.9 146.35 L531.9 146.35 L530.9 145.35 L526.9 145.35 L525.9 144.35 L521.9 144.35 L520.9 143.35 L515.9 143.35 L514.9 142.35 L509.9 142.35 L508.9 141.35 L503.9 141.35 L502.9 140.35 L497.9 140.35 L496.9 139.35 L491.9 139.35 L490.9 138.35 L484.9 138.35 L483.9 137.35 L478.9 137.35 L477.9 136.35 L471.9 136.35 L470.9 135.35 L465.9 135.35 L464.9 134.35 L457.9 134.35 L456.9 133.35 L450.9 133.35 L449.9 132.35 L442.9 132.35 L441.9 131.35 L434.9 131.35 L433.9 130.35 L426.9 130.35 L425.9 129.35 L417.9 129.35 L416.9 128.35 L407.9 128.35 L406.9 127.35 L397.9 127.35 L396.9 126.35 L385.9 126.35 L384.9 125.35 L372.9 125.35 L371.9 124.35 L357.9 124.35 L356.9 123.35 L338.9 123.35 L337.9 122.35 L302.9 122.35 L301.9 121.35 L217.9 121.35 A1.80 2.00 0 0 1 217.90 117.35 Z" fill="#98B954" stroke="none"/>
<path d="M217.9 86.35 L243.9 86.35 L244.9 85.35 L306.9 85.35 L307.9 86.35 L333.9 86.35 L334.9 87.35 L351.9 87.35 L352.9 88.35 L365.9 88.35 L366.9 89.35 L377.9 89.35 L378.9 90.35 L388.9 90.35 L389.9 91.35 L399.9 91.35 L400.9 92.35 L408.9 92.35 L409.9 93.35 L417.9 93.35 L418.9 94.35 L426.9 94.35 L427.9 95.35 L434.9 95.35 L435.9 96.35 L442.9 96.35 L443.9 97.35 L449.9 97.35 L450.9 98.35 L456.9 98.35 L457.9 99.35 L463.9 99.35 L464.9 100.35 L470.9 100.35 L471.9 101.35 L476.9 101.35 L477.9 102.35 L482.9 102.35 L483.9 103.35 L488.9 103.35 L489.9 104.35 L493.9 104.35 L494.9 105.35 L499.9 105.35 L500.9 106.35 L504.9 106.35 L505.9 107.35 L510.9 107.35 L511.9 108.35 L515.9 108.35 L516.9 109.35 L520.9 109.35 L521.9 110.35 L524.9 110.35 L525.9 111.35 L529.9 111.35 L530.9 112.35 L534.9 112.35 L535.9 113.35 L536.9 113.35 L537.9 113.35 L538.9 113.36 L539.9 114.34 L540.9 114.34 L541.9 114.35 L542.9 114.36 L543.9 114.37 L544.9 115.33 L545.9 115.34 L546.9 115.36 L547.9 115.38 L548.9 116.32 L549.9 116.34 L550.9 116.36 L551.9 116.38 L552.9 117.31 L553.9 117.33 L554.9 117.35 L555.9 117.38 L556.9 118.30 L557.9 118.32 L558.9 118.35 L559.9 118.38 L560.9 118.41 L561.9 119.32 L562.9 119.35 L563.9 119.38 L564.9 119.42 L565.9 120.31 L566.9 120.35 L567.9 120.39 L568.9 120.43 L569.9 121.31 L570.9 121.35 L571.9 121.39 L572.9 121.44 L573.9 122.30 L574.9 122.35 L575.9 122.40 L576.9 123.25 L577.9 123.31 L578.9 123.36 L579.9 123.42 L580.9 124.25 L581.9 124.31 L582.9 124.38 L583.9 124.44 L584.9 125.26 L585.9 125.33 L586.9 125.40 L587.9 125.48 L588.9 126.28 L589.9 126.35 L590.9 126.44 L591.9 127.22 L592.9 127.30 L593.9 127.39 L594.9 127.49 L595.9 128.25 L596.9 128.35 L597.9 128.45 L598.9 129.20 L599.9 129.30 L600.9 129.41 L601.9 129.52 L602.9 130.25 L603.9 130.37 L604.9 130.49 L605.9 131.20 L606.9 131.33 L607.9 131.46 L608.9 132.16 L609.9 132.29 L610.9 132.44 L611.9 133.11 L612.9 133.26 L613.9 133.42 L614.9 133.58 L615.9 134.23 L616.9 134.40 L617.9 134.58 L618.9 135.22 L619.9 135.39 L620.9 135.58 L621.9 136.21 L622.9 136.39 L623.9 136.58 L624.9 137.20 L625.9 137.40 L626.9 137.60 L627.9 138.21 L628.9 138.41 L629.9 138.62 L630.9 139.22 L631.9 139.43 L632.9 139.65 L633.9 140.24 L634.9 140.46 L635.9 141.04 L636.9 141.27 L637.9 141.51 L638.9 142.07 L639.9 142.31 L640.9 142.56 L641.9 143.11 L642.9 143.37 L643.9 143.63 L644.9 144.17 L645.9 144.44 L646.9 144.71 L647.9 145.24 L648.9 145.52 L649.9 146.04 L650.9 146.33 L651.9 146.63 L652.9 147.14 L653.9 147.44 L654.9 147.75 L655.9 148.25 L656.9 148.57 L657.9 149.06 L658.9 149.39 L659.9 149.73 L660.9 150.20 L661.9 150.55 L662.9 151.01 L663.9 151.37 L664.9 151.74 L665.9 152.19 L666.9 152.57 L667.9 153.01 L668.9 153.40 L669.9 153.79 L670.9 154.23 L671.9 154.64 L672.9 155.06 L673.9 155.48 L674.9 155.90 L675.9 156.33 L676.9 156.75 L677.9 157.18 L678.9 157.61 L679.9 158.05 L680.9 158.49 L681.9 158.92 L682.9 159.37 L683.9 159.81 L684.9 160.25 L685.9 160.70 L686.9 161.15 L687.9 161.60 L688.9 162.05 L689.9 162.50 L690.9 162.95 L691.9 163.41 L692.9 163.86 L693.9 164.32 L694.9 164.78 L695.9 165.24 L696.9 165.70 L697.9 166.16 L698.9 166.62 L699.9 167.09 L700.9 167.55 L701.9 168.02 L702.9 168.49 L703.9 168.96 L704.9 169.43 L705.9 169.91 L706.9 170.38 L707.9 170.86 L708.9 171.34 L709.9 171.83 L710.9 172.31 L711.9 172.80 L712.9 173.29 L713.9 173.78 L714.9 174.27 L715.9 174.77 L716.9 175.27 L717.9 175.77 L718.9 176.27 L719.9 176.78 L720.9 177.28 L721.9 177.80 L722.9 178.31 L723.9 178.83 L724.9 179.35 L725.9 179.87 L726.9 180.39 L727.9 180.92 L728.9 181.46 L729.9 181.99 L730.9 182.53 L731.9 183.07 L732.9 183.62 L733.9 184.16 L734.9 184.72 L735.9 185.27 L736.9 185.83 L737.9 186.39 L738.9 186.96 L739.9 187.53 L740.9 188.11 L741.9 188.69 L742.9 189.27 L743.9 189.86 L744.9 190.45 L745.9 191.04 L746.9 191.65 L747.9 192.25 L748.9 192.86 L749.9 193.48 L750.9 194.10 L751.9 194.72 L752.9 195.35 L753.9 195.99 L754.9 196.63 L755.9 197.28 L756.9 197.93 L757.9 198.59 L758.9 199.26 L759.9 199.93 L760.9 200.60 L761.9 201.28 L762.9 201.97 L763.9 202.66 L764.9 203.36 L765.9 204.06 L766.9 204.76 L767.9 205.47 L768.9 206.19 L769.9 206.91 L770.9 207.63 L771.9 208.35 L772.9 209.08 L773.9 209.82 L774.9 210.56 L775.9 211.30 L776.9 212.04 L777.9 212.79 L778.9 213.54 L779.9 214.29 L780.9 215.05 L781.9 215.81 L782.9 216.57 L783.9 217.33 L784.9 218.09 L785.9 218.86 L786.9 219.63 L787.9 220.40 L788.9 221.17 L789.9 221.94 L790.9 222.72 L791.9 223.49 L792.9 224.27 L793.9 225.04 L794.9 225.82 L795.9 226.60 L796.9 227.37 L797.9 228.15 L798.9 228.93 L799.9 229.70 L800.9 230.48 L801.9 231.25 L802.9 232.02 L803.9 232.80 L804.9 233.57 L805.9 234.34 L806.9 235.10 L807.9 235.87 L808.9 236.63 L809.9 237.40 L810.9 238.16 L811.9 238.91 L812.9 239.67 L813.9 240.42 L814.9 241.17 L815.9 241.92 L816.9 242.66 L817.9 243.40 L818.2 243.62 A1.80 2.00 0 0 1 818.20 247.62 L817.9 247.40 L816.9 246.66 L815.9 245.92 L814.9 245.17 L813.9 244.42 L812.9 243.67 L811.9 242.91 L810.9 242.16 L809.9 241.40 L808.9 240.63 L807.9 239.87 L806.9 239.10 L805.9 238.34 L804.9 237.57 L803.9 236.80 L802.9 236.02 L801.9 235.25 L800.9 234.48 L799.9 233.70 L798.9 232.93 L797.9 232.15 L796.9 231.37 L795.9 230.60 L794.9 229.82 L793.9 229.04 L792.9 228.27 L791.9 227.49 L790.9 226.72 L789.9 225.94 L788.9 225.17 L787.9 224.40 L786.9 223.63 L785.9 222.86 L784.9 222.09 L783.9 221.33 L782.9 220.57 L781.9 219.81 L780.9 219.05 L779.9 218.29 L778.9 217.54 L777.9 216.79 L776.9 216.04 L775.9 215.30 L774.9 214.56 L773.9 213.82 L772.9 213.08 L771.9 212.35 L770.9 211.63 L769.9 210.91 L768.9 210.19 L767.9 209.47 L766.9 208.76 L765.9 208.06 L764.9 207.36 L763.9 206.66 L762.9 205.97 L761.9 205.28 L760.9 204.60 L759.9 203.93 L758.9 203.26 L757.9 202.59 L756.9 201.93 L755.9 201.28 L754.9 200.63 L753.9 199.99 L752.9 199.35 L751.9 198.72 L750.9 198.10 L749.9 197.48 L748.9 196.86 L747.9 196.25 L746.9 195.65 L745.9 195.04 L744.9 194.45 L743.9 193.86 L742.9 193.27 L741.9 192.69 L740.9 192.11 L739.9 191.53 L738.9 190.96 L737.9 190.39 L736.9 189.83 L735.9 189.27 L734.9 188.72 L733.9 188.16 L732.9 187.62 L731.9 187.07 L730.9 186.53 L729.9 185.99 L728.9 185.46 L727.9 184.92 L726.9 184.39 L725.9 183.87 L724.9 183.35 L723.9 182.83 L722.9 182.31 L721.9 181.80 L720.9 181.28 L719.9 180.78 L718.9 180.27 L717.9 179.77 L716.9 179.27 L715.9 178.77 L714.9 178.27 L713.9 177.78 L712.9 177.29 L711.9 176.80 L710.9 176.31 L709.9 175.83 L708.9 175.34 L707.9 174.86 L706.9 174.38 L705.9 173.91 L704.9 173.43 L703.9 172.96 L702.9 172.49 L701.9 172.02 L700.9 171.55 L699.9 171.09 L698.9 170.62 L697.9 170.16 L696.9 169.70 L695.9 169.24 L694.9 168.78 L693.9 168.32 L692.9 167.86 L691.9 167.41 L690.9 166.95 L689.9 166.50 L688.9 166.05 L687.9 165.60 L686.9 165.15 L685.9 164.70 L684.9 164.25 L683.9 163.81 L682.9 163.37 L681.9 162.92 L680.9 162.49 L679.9 162.05 L678.9 161.61 L677.9 161.18 L676.9 160.75 L675.9 160.33 L674.9 159.90 L673.9 159.48 L672.9 159.06 L671.9 158.64 L670.9 158.23 L669.9 157.79 L668.9 157.40 L667.9 157.01 L666.9 156.57 L665.9 156.19 L664.9 155.74 L663.9 155.37 L662.9 155.01 L661.9 154.55 L660.9 154.20 L659.9 153.73 L658.9 153.39 L657.9 153.06 L656.9 152.57 L655.9 152.25 L654.9 151.75 L653.9 151.44 L652.9 151.14 L651.9 150.63 L650.9 150.33 L649.9 150.04 L648.9 149.52 L647.9 149.24 L646.9 148.71 L645.9 148.44 L644.9 148.17 L643.9 147.63 L642.9 147.37 L641.9 147.11 L640.9 146.56 L639.9 146.31 L638.9 146.07 L637.9 145.51 L636.9 145.27 L635.9 145.04 L634.9 144.46 L633.9 144.24 L632.9 143.65 L631.9 143.43 L630.9 143.22 L629.9 142.62 L628.9 142.41 L627.9 142.21 L626.9 141.60 L625.9 141.40 L624.9 141.20 L623.9 140.58 L622.9 140.39 L621.9 140.21 L620.9 139.58 L619.9 139.39 L618.9 139.22 L617.9 138.58 L616.9 138.40 L615.9 138.23 L614.9 137.58 L613.9 137.42 L612.9 137.26 L611.9 137.11 L610.9 136.44 L609.9 136.29 L608.9 136.16 L607.9 135.46 L606.9 135.33 L605.9 135.20 L604.9 134.49 L603.9 134.37 L602.9 134.25 L601.9 133.52 L600.9 133.41 L599.9 133.30 L598.9 133.20 L597.9 132.45 L596.9 132.35 L595.9 132.25 L594.9 131.49 L593.9 131.39 L592.9 131.30 L591.9 131.22 L590.9 130.44 L589.9 130.35 L588.9 130.28 L587.9 129.48 L586.9 129.40 L585.9 129.33 L584.9 129.26 L583.9 128.44 L582.9 128.38 L581.9 128.31 L580.9 128.25 L579.9 127.42 L578.9 127.36 L577.9 127.31 L576.9 127.25 L575.9 126.40 L574.9 126.35 L573.9 126.30 L572.9 125.44 L571.9 125.39 L570.9 125.35 L569.9 125.31 L568.9 124.43 L567.9 124.39 L566.9 124.35 L565.9 124.31 L564.9 123.42 L563.9 123.38 L562.9 123.35 L561.9 123.32 L560.9 122.41 L559.9 122.38 L558.9 122.35 L557.9 122.32 L556.9 122.30 L555.9 121.38 L554.9 121.35 L553.9 121.33 L552.9 121.31 L551.9 120.38 L550.9 120.36 L549.9 120.34 L548.9 120.32 L547.9 119.38 L546.9 119.36 L545.9 119.34 L544.9 119.33 L543.9 118.37 L542.9 118.36 L541.9 118.35 L540.9 118.34 L539.9 118.34 L538.9 117.36 L537.9 117.35 L536.9 117.35 L535.9 117.35 L534.9 116.35 L530.9 116.35 L529.9 115.35 L525.9 115.35 L524.9 114.35 L521.9 114.35 L520.9 113.35 L516.9 113.35 L515.9 112.35 L511.9 112.35 L510.9 111.35 L505.9 111.35 L504.9 110.35 L500.9 110.35 L499.9 109.35 L494.9 109.35 L493.9 108.35 L489.9 108.35 L488.9 107.35 L483.9 107.35 L482.9 106.35 L477.9 106.35 L476.9 105.35 L471.9 105.35 L470.9 104.35 L464.9 104.35 L463.9 103.35 L457.9 103.35 L456.9 102.35 L450.9 102.35 L449.9 101.35 L443.9 101.35 L442.9 100.35 L435.9 100.35 L434.9 99.35 L427.9 99.35 L426.9 98.35 L418.9 98.35 L417.9 97.35 L409.9 97.35 L408.9 96.35 L400.9 96.35 L399.9 95.35 L389.9 95.35 L388.9 94.35 L378.9 94.35 L377.9 93.35 L366.9 93.35 L365.9 92.35 L352.9 92.35 L351.9 91.35 L334.9 91.35 L333.9 90.35 L307.9 90.35 L306.9 89.35 L244.9 89.35 L243.9 90.35 L217.9 90.35 A1.80 2.00 0 0 1 217.90 86.35 Z" fill="#7D60A0" stroke="none"/>
<rect x="237.4" y="489.90" width="30.5" height="3.2" rx="1.6" ry="1.6" fill="#4A7EBB"/>
<rect x="237.4" y="514.90" width="30.5" height="3.2" rx="1.6" ry="1.6" fill="#98B954"/>
<rect x="459.4" y="489.90" width="28.7" height="3.2" rx="1.6" ry="1.6" fill="#BE4B48"/>
<rect x="459.4" y="514.90" width="28.7" height="3.2" rx="1.6" ry="1.6" fill="#7D60A0"/>
</g>
<!-- labels -->
<text x="46.4" y="65.0" font-size="13.2" textLength="24.6" lengthAdjust="spacingAndGlyphs">8.00</text>
<text x="46.4" y="107.0" font-size="13.2" textLength="24.6" lengthAdjust="spacingAndGlyphs">7.00</text>
<text x="46.4" y="150.0" font-size="13.2" textLength="24.6" lengthAdjust="spacingAndGlyphs">6.00</text>
<text x="46.4" y="193.0" font-size="13.2" textLength="24.6" lengthAdjust="spacingAndGlyphs">5.00</text>
<text x="46.4" y="236.0" font-size="13.2" textLength="24.6" lengthAdjust="spacingAndGlyphs">4.00</text>
<text x="46.4" y="279.0" font-size="13.2" textLength="24.6" lengthAdjust="spacingAndGlyphs">3.00</text>
<text x="46.4" y="321.0" font-size="13.2" textLength="24.6" lengthAdjust="spacingAndGlyphs">2.00</text>
<text x="46.4" y="364.0" font-size="13.2" textLength="24.6" lengthAdjust="spacingAndGlyphs">1.00</text>
<text x="46.4" y="408.0" font-size="13.2" textLength="24.6" lengthAdjust="spacingAndGlyphs">0.00</text>

<text x="77.5" y="429.8" font-size="13.2" textLength="13.8" lengthAdjust="spacingAndGlyphs">40</text>
<text x="210.8" y="429.8" font-size="13.2" textLength="13.8" lengthAdjust="spacingAndGlyphs">50</text>
<text x="344.2" y="429.8" font-size="13.2" textLength="13.8" lengthAdjust="spacingAndGlyphs">60</text>
<text x="477.5" y="429.8" font-size="13.2" textLength="13.8" lengthAdjust="spacingAndGlyphs">70</text>
<text x="610.8" y="429.8" font-size="13.2" textLength="13.8" lengthAdjust="spacingAndGlyphs">80</text>
<text x="744.2" y="429.8" font-size="13.2" textLength="13.8" lengthAdjust="spacingAndGlyphs">90</text>
<text x="873.0" y="429.8" font-size="13.2" textLength="21.4" lengthAdjust="spacingAndGlyphs">100</text>

<text x="158.9" y="36.0" font-size="22.5" font-weight="bold" textLength="110.9" lengthAdjust="spacingAndGlyphs">Difference</text>
<text x="273.6" y="36.0" font-size="22.5" font-weight="bold" textLength="92.1" lengthAdjust="spacingAndGlyphs">detected</text>
<text x="370.6" y="36.0" font-size="22.5" font-weight="bold" textLength="47.9" lengthAdjust="spacingAndGlyphs">with</text>
<text x="424.3" y="36.0" font-size="22.5" font-weight="bold" textLength="44.1" lengthAdjust="spacingAndGlyphs">80%</text>
<text x="474.9" y="36.0" font-size="22.5" font-weight="bold" textLength="67.7" lengthAdjust="spacingAndGlyphs">power</text>
<text x="548.8" y="36.0" font-size="22.5" font-weight="bold" textLength="29.5" lengthAdjust="spacingAndGlyphs">for</text>
<text x="584.5" y="36.0" font-size="22.5" font-weight="bold" textLength="74.4" lengthAdjust="spacingAndGlyphs">several</text>
<text x="663.8" y="36.0" font-size="22.5" font-weight="bold" textLength="87.2" lengthAdjust="spacingAndGlyphs">samples</text>

<text x="419.0" y="458.1" font-size="13.1" font-weight="bold" textLength="42.0" lengthAdjust="spacingAndGlyphs">Overall</text>
<text x="462.8" y="458.1" font-size="13.1" font-weight="bold" textLength="55.8" lengthAdjust="spacingAndGlyphs">Response</text>
<text x="523.1" y="458.1" font-size="13.1" font-weight="bold" textLength="26.9" lengthAdjust="spacingAndGlyphs">Rate</text>

<g transform="rotate(-90)"><text x="-318.2" y="32.2" font-size="13.1" font-weight="bold" textLength="54.7" lengthAdjust="spacingAndGlyphs">Minimum</text>
<text x="-261.0" y="32.2" font-size="13.1" font-weight="bold" textLength="60.5" lengthAdjust="spacingAndGlyphs">difference</text>
<text x="-198.1" y="32.2" font-size="13.1" font-weight="bold" textLength="55.0" lengthAdjust="spacingAndGlyphs">detected</text>
</g>
<text x="268.7" y="495.4" font-size="13.2" font-weight="normal" textLength="13.3" lengthAdjust="spacingAndGlyphs">81</text>
<text x="284.9" y="495.4" font-size="13.2" font-weight="normal" textLength="64.5" lengthAdjust="spacingAndGlyphs">institutions,</text>
<text x="356.1" y="495.4" font-size="13.2" font-weight="normal" textLength="14.0" lengthAdjust="spacingAndGlyphs">40</text>
<text x="372.8" y="495.4" font-size="13.2" font-weight="normal" textLength="19.5" lengthAdjust="spacingAndGlyphs">per</text>
<text x="396.0" y="495.4" font-size="13.2" font-weight="normal" textLength="56.9" lengthAdjust="spacingAndGlyphs">institution</text>
<text x="268.7" y="520.6" font-size="13.2" font-weight="normal" textLength="13.3" lengthAdjust="spacingAndGlyphs">61</text>
<text x="284.9" y="520.6" font-size="13.2" font-weight="normal" textLength="64.5" lengthAdjust="spacingAndGlyphs">institutions,</text>
<text x="356.1" y="520.6" font-size="13.2" font-weight="normal" textLength="14.0" lengthAdjust="spacingAndGlyphs">40</text>
<text x="372.8" y="520.6" font-size="13.2" font-weight="normal" textLength="19.5" lengthAdjust="spacingAndGlyphs">per</text>
<text x="396.0" y="520.6" font-size="13.2" font-weight="normal" textLength="56.9" lengthAdjust="spacingAndGlyphs">institution</text>
<text x="490.7" y="495.4" font-size="13.2" font-weight="normal" textLength="13.2" lengthAdjust="spacingAndGlyphs">81</text>
<text x="507.0" y="495.4" font-size="13.2" font-weight="normal" textLength="64.9" lengthAdjust="spacingAndGlyphs">institutions,</text>
<text x="578.2" y="495.4" font-size="13.2" font-weight="normal" textLength="13.9" lengthAdjust="spacingAndGlyphs">30</text>
<text x="595.3" y="495.4" font-size="13.2" font-weight="normal" textLength="19.0" lengthAdjust="spacingAndGlyphs">per</text>
<text x="618.0" y="495.4" font-size="13.2" font-weight="normal" textLength="51.8" lengthAdjust="spacingAndGlyphs">insitution</text>
<text x="490.7" y="520.6" font-size="13.2" font-weight="normal" textLength="13.2" lengthAdjust="spacingAndGlyphs">61</text>
<text x="507.0" y="520.6" font-size="13.2" font-weight="normal" textLength="64.9" lengthAdjust="spacingAndGlyphs">institutions,</text>
<text x="578.2" y="520.6" font-size="13.2" font-weight="normal" textLength="13.9" lengthAdjust="spacingAndGlyphs">30</text>
<text x="595.3" y="520.6" font-size="13.2" font-weight="normal" textLength="19.0" lengthAdjust="spacingAndGlyphs">per</text>
<text x="618.0" y="520.6" font-size="13.2" font-weight="normal" textLength="56.9" lengthAdjust="spacingAndGlyphs">institution</text>

</svg>
</body></html>
